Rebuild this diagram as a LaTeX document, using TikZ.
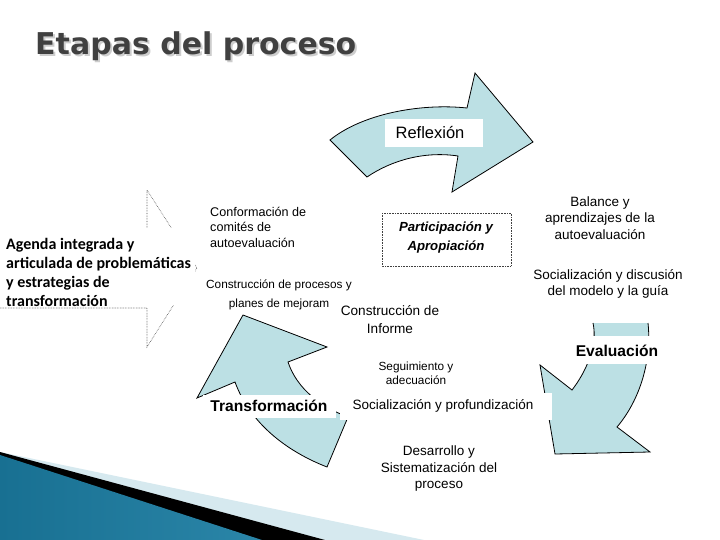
\documentclass[tikz,border=0pt]{standalone}
\usepackage{fontspec}
\setmainfont{Liberation Sans}
\newfontfamily\calib{Carlito}
\newfontfamily\titlef{DejaVu Sans}
\definecolor{arrowfill}{RGB}{188,224,228}
\definecolor{titlegray}{RGB}{64,64,64}
\definecolor{shadowgray}{RGB}{205,205,205}
\definecolor{lightband}{RGB}{214,233,239}
\definecolor{blueA}{RGB}{24,112,146}
\definecolor{blueB}{RGB}{86,184,220}
\begin{document}
\begin{tikzpicture}[x=1pt,y=-1pt,
  arrowshape/.style={fill=arrowfill},
  arrowline/.style={draw=black, line width=0.8pt, line join=miter},
  lbl/.style={font=\fontsize{13.5}{16.5}\selectfont, align=center, inner sep=0pt},
  smalllbl/.style={font=\fontsize{11.8}{14}\selectfont, align=center, inner sep=0pt},
  boldlbl/.style={font=\fontsize{15.6}{18}\selectfont\bfseries, inner sep=0pt},
  whitebox/.style={fill=white, draw=none}
]
\useasboundingbox (0,0) rectangle (720,540);
\fill[white] (0,0) rectangle (720,540);

% title
\node[anchor=base west, inner sep=0pt, text=shadowgray, font=\titlef\bfseries\fontsize{30}{34}\selectfont] (titleshadow) at (37,57) {Etapas del proceso};
\node[anchor=base west, inner sep=0pt, text=titlegray, font=\titlef\bfseries\fontsize{30}{34}\selectfont] (title) at (35,55) {Etapas del proceso};

% bottom-left decoration
\fill[lightband] (0,452) -- (424,540) -- (0,540) -- cycle;
\fill[black] (0,452) -- (325,540) -- (0,540) -- cycle;
\shade[left color=blueA, middle color=blueB, right color=blueA!70!blueB] (0,455) -- (262,540) -- (0,540) -- cycle;

% left dotted arrow with agenda text
\draw[densely dotted, line width=0.6pt, draw=black!70] (0,230) -- (147,230) -- (147,190) -- (197,268) -- (147,347) -- (147,308) -- (0,308);
\fill[whitebox] (0,228) rectangle (195,305);
\node[anchor=west, align=left, inner sep=0pt, font=\calib\bfseries\fontsize{16}{19}\selectfont] (agenda) at (6,272)
  {Agenda integrada y\\articulada de problemáticas\\y estrategias de\\transformación};

% Reflexion arrow
\path[arrowshape] (330,140) .. controls (362,114) and (420,103) .. (467,108) -- (475,73) -- (533,142) -- (452,192) -- (458,156) .. controls (425,151) and (392,160) .. (367,177) -- cycle;
\draw[arrowline] (330,140) .. controls (362,114) and (420,103) .. (467,108) -- (475,73) -- (533,142) -- (452,192) -- (458,156) .. controls (425,151) and (392,160) .. (367,177) -- cycle;
\fill[whitebox] (385,119) rectangle (483,147);
\node[font=\fontsize{16.5}{18}\selectfont, inner sep=0pt] (reflexion) at (430,133) {Reflexión};

% Transformacion arrow
\path[arrowshape] (327,467) -- (348,417) .. controls (321,407) and (297,389) .. (288,362) -- (327,347) -- (243,315) -- (197,398) -- (235,382) .. controls (250,423) and (286,451) .. (327,467) -- cycle;
\draw[arrowline] (327,467) -- (348,417) .. controls (321,407) and (297,389) .. (288,362) -- (327,347) -- (243,315) -- (197,398) -- (235,382) .. controls (250,423) and (286,451) .. (327,467) -- cycle;
\fill[whitebox] (203,395) rectangle (336,418);
\node[boldlbl] (transformacion) at (269,406) {Transformación};

% Evaluacion arrow
\path[arrowshape] (593,323) .. controls (598,345) and (586,372) .. (572,390) -- (540,365) -- (555,454) -- (650,452) -- (617,427) .. controls (640,400) and (652,360) .. (648,323) -- cycle;
\draw[arrowline] (593,323) .. controls (598,345) and (586,372) .. (572,390) -- (540,365) -- (555,454) -- (650,452) -- (617,427) .. controls (640,400) and (652,360) .. (648,323);
\fill[whitebox] (560,336) rectangle (662,364);
\node[boldlbl] (evaluacion) at (617,351) {Evaluación};

% Socializacion y profundizacion
\fill[whitebox] (340,393) rectangle (552,420);
\node[lbl] (profund) at (443,406) {Socialización y profundización};

% Participacion box
\draw[densely dotted, line width=0.6pt, draw=black!75] (382,213) rectangle (511,266);
\node[font=\fontsize{13.2}{19}\selectfont\bfseries\itshape, align=center, inner sep=0pt] (particip) at (446,238) {Participación y\\Apropiación};

% other labels
\node[anchor=west, align=left, inner sep=0pt, font=\fontsize{12.6}{15.5}\selectfont] (conform) at (210,227) {Conformación de\\comités de\\autoevaluación};
\node[lbl] (balance) at (600,218) {Balance y\\aprendizajes de la\\autoevaluación};
\node[lbl] (socdisc) at (608,284) {Socialización y discusión\\del modelo y la guía};
\node[smalllbl, font=\fontsize{11.8}{19}\selectfont] (construproc) at (279,295) {Construcción de procesos y\\planes de mejoram};
\node[lbl, font=\fontsize{13.6}{18}\selectfont] (informe) at (390,320) {Construcción de\\Informe};
\node[smalllbl] (seguim) at (416,373) {Seguimiento y\\adecuación};
\node[lbl] (desarrollo) at (439,469) {Desarrollo y\\Sistematización del\\proceso};
\end{tikzpicture}
\end{document}
